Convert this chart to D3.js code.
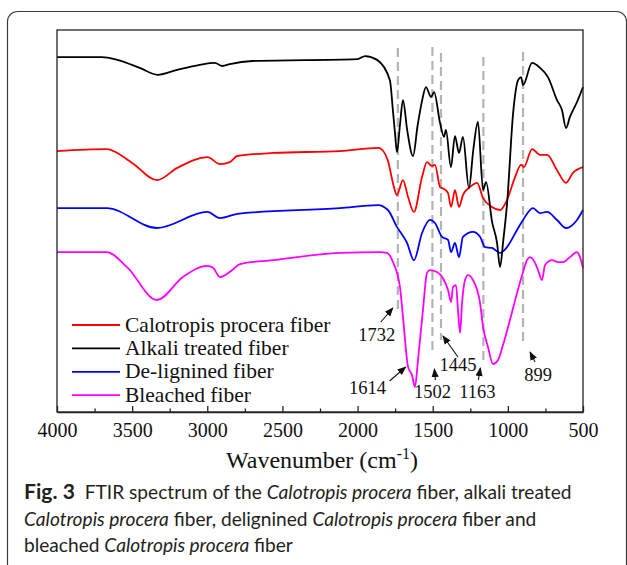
<!DOCTYPE html>
<html>
<head>
<meta charset="utf-8">
<script src="https://cdnjs.cloudflare.com/ajax/libs/d3/7.8.5/d3.min.js"></script>
<style>
  body { margin: 0; background: #fff; }
  svg { display: block; }
</style>
</head>
<body>
<svg width="627" height="565"></svg>
<script>
// FTIR spectra, [wavenumber cm-1, transmittance a.u.]
var calotropis = [[4000,68.4],[3670,68.9],[3500,65.3],[3335,60.8],[3200,64.0],[3000,66.8],[2915,65.0],[2850,65.5],[2800,67.1],[2560,67.9],[2117,68.4],[1860,69.2],[1800,66.1],[1758,59.0],[1738,56.9],[1698,60.8],[1664,56.4],[1625,52.5],[1571,61.6],[1538,65.5],[1505,64.5],[1485,64.8],[1451,59.0],[1425,58.5],[1398,57.4],[1378,53.8],[1352,58.2],[1325,53.8],[1299,56.9],[1252,59.0],[1205,60.1],[1165,56.1],[1106,53.8],[1052,53.0],[1006,55.6],[952,61.6],[912,64.8],[893,64.2],[839,68.9],[786,67.4],[739,67.4],[673,63.4],[613,60.1],[567,62.7],[500,64.2]];

var alkali = [[4000,92.9],[3700,92.9],[3600,92.2],[3450,90.1],[3330,88.3],[3200,89.6],[3050,90.9],[2950,91.4],[2900,90.6],[2850,91.1],[2700,91.9],[2000,92.4],[1950,93.2],[1870,92.2],[1785,86.9],[1765,79.1],[1750,72.6],[1738,68.1],[1718,75.2],[1698,81.7],[1670,73.9],[1631,67.1],[1600,75.2],[1570,81.7],[1545,85.1],[1511,82.5],[1491,83.8],[1451,75.7],[1425,72.1],[1412,73.9],[1379,64.2],[1352,72.3],[1325,67.9],[1299,72.1],[1259,58.7],[1230,68.7],[1199,76.0],[1165,58.2],[1145,60.3],[1105,49.9],[1072,44.4],[1052,38.1],[1030,45.2],[1005,54.8],[965,78.3],[932,86.9],[912,87.7],[899,85.6],[839,91.4],[786,90.1],[733,87.7],[673,81.7],[640,79.1],[613,74.4],[587,77.3],[540,81.2],[500,85.1]];

var delignified = [[4000,53.5],[3670,53.5],[3335,48.3],[3000,52.5],[2915,50.9],[2800,52.0],[2117,53.5],[1864,54.3],[1798,53.0],[1738,48.6],[1671,44.4],[1625,39.9],[1571,47.0],[1518,50.4],[1485,49.6],[1438,46.0],[1398,45.2],[1378,42.0],[1352,44.4],[1325,40.7],[1299,46.0],[1232,47.3],[1185,46.0],[1152,43.3],[1106,43.1],[1052,41.8],[1006,43.3],[939,47.8],[899,50.4],[833,53.5],[786,52.2],[739,52.5],[673,50.4],[613,48.3],[540,50.4],[500,53.0]];

var bleached = [[4000,42.0],[3670,42.0],[3534,38.1],[3335,29.5],[3162,35.5],[3002,38.4],[2962,37.9],[2915,35.5],[2836,37.3],[2782,38.9],[2563,39.9],[2117,41.8],[1851,42.0],[1804,41.8],[1764,39.4],[1718,32.9],[1698,25.1],[1664,12.0],[1638,9.9],[1618,6.8],[1598,13.8],[1565,26.9],[1538,36.6],[1518,37.3],[1472,36.8],[1432,35.2],[1398,32.1],[1378,29.0],[1365,32.9],[1345,33.4],[1332,26.9],[1318,20.9],[1305,28.7],[1285,34.7],[1265,36.0],[1232,34.7],[1185,28.7],[1165,22.5],[1132,17.2],[1099,12.8],[1066,13.8],[1032,17.8],[986,24.3],[939,31.3],[899,36.8],[873,39.9],[853,40.7],[819,39.2],[799,37.3],[773,34.7],[753,38.6],[706,39.9],[666,39.4],[633,39.4],[587,40.7],[540,42.0],[500,37.9]];

var legendNames = ["Calotropis procera fiber", "Alkali treated fiber", "De-lignined fiber", "Bleached fiber"];
var colors = ["#ff0000", "#000000", "#0000ff", "#ff00ff"];
var majorTicks = [4000, 3500, 3000, 2500, 2000, 1500, 1000, 500];
var minorTicks = [3750, 3250, 2750, 2250, 1750, 1250, 750];
var peaks = [1732, 1614, 1502, 1445, 1163, 899];
var dashedAt = [1732, 1502, 1445, 1163, 899];

var svg = d3.select("svg");
var plotL = 57, plotR = 583, plotT = 30, plotB = 412;

var x = d3.scaleLinear().domain([4000, 500]).range([plotL, plotR]);
var y = d3.scaleLinear().domain([0, 100]).range([plotB + 1, plotT]);

// outer caption box
svg.append("rect")
  .attr("x", 7.5).attr("y", 11.5).attr("width", 619).attr("height", 600)
  .attr("rx", 10).attr("fill", "none").attr("stroke", "#3a3a3a").attr("stroke-width", 1.2);

// dashed guide lines
var dashTop = [48, 47, 53, 57, 52], dashBot = [313, 352, 340, 360, 342];
svg.append("g").selectAll("line").data(dashedAt).enter().append("line")
  .attr("x1", function (d) { return x(d); }).attr("x2", function (d) { return x(d); })
  .attr("y1", function (d, i) { return dashTop[i]; })
  .attr("y2", function (d, i) { return dashBot[i]; })
  .attr("stroke", "#b4b4b4").attr("stroke-width", 2.2).attr("stroke-dasharray", "9,5");

var line = d3.line()
  .x(function (d) { return x(d[0]); })
  .y(function (d) { return y(d[1]); })
  .curve(d3.curveMonotoneX);

var series = [calotropis, alkali, delignified, bleached];
[0, 2, 3, 1].forEach(function (i) {
  svg.append("path").datum(series[i])
    .attr("d", line).attr("fill", "none")
    .attr("stroke", colors[i]).attr("stroke-width", 1.8)
    .attr("stroke-linejoin", "round");
});

// frame
svg.append("rect")
  .attr("x", plotL).attr("y", plotT).attr("width", plotR - plotL).attr("height", plotB - plotT)
  .attr("fill", "none").attr("stroke", "#222").attr("stroke-width", 1.3);

// x axis, ticks pointing inward
var xAxis = d3.axisBottom(x).tickValues(majorTicks).tickFormat(d3.format("d"))
  .tickSizeInner(-6).tickSizeOuter(0).tickPadding(11);
var gx = svg.append("g").attr("transform", "translate(0," + plotB + ")").call(xAxis);
gx.select(".domain").attr("stroke", "#222").attr("stroke-width", 1.3);
gx.selectAll(".tick line").attr("stroke", "#222").attr("stroke-width", 1.3);
gx.selectAll("text").attr("font-family", "Liberation Serif").attr("font-size", 20).attr("fill", "#111");

var gm = svg.append("g").attr("transform", "translate(0," + plotB + ")")
  .call(d3.axisBottom(x).tickValues(minorTicks).tickFormat("").tickSizeInner(-3.5).tickSizeOuter(0));
gm.select(".domain").remove();
gm.selectAll(".tick line").attr("stroke", "#222").attr("stroke-width", 1.3);

// axis title
var title = svg.append("text").attr("x", 322).attr("y", 468).attr("text-anchor", "middle")
  .attr("font-family", "Liberation Serif").attr("font-size", 24).attr("fill", "#111");
title.append("tspan").text("Wavenumber (cm");
title.append("tspan").attr("dy", -9).attr("font-size", 16).text("-1");
title.append("tspan").attr("dy", 9).text(")");

// legend
var lg = svg.append("g");
legendNames.forEach(function (name, i) {
  var yy = 325 + i * 23.4;
  lg.append("line").attr("x1", 72).attr("x2", 120).attr("y1", yy).attr("y2", yy)
    .attr("stroke", colors[i]).attr("stroke-width", 1.8);
  lg.append("text").attr("x", 125).attr("y", yy + 6.5)
    .attr("font-family", "Liberation Serif").attr("font-size", 21.5).attr("fill", "#111").text(name);
});

// peak annotations
svg.append("defs").append("marker").attr("id", "ah")
  .attr("viewBox", "0 0 10 10").attr("refX", 9).attr("refY", 5)
  .attr("markerWidth", 9).attr("markerHeight", 9).attr("orient", "auto")
  .attr("markerUnits", "userSpaceOnUse")
  .append("path").attr("d", "M0,1 L10,5 L0,9 Z").attr("fill", "#111");

var notes = [
  { tx: -21, ty: 341, a: [-17, 322, -5, 308] },
  { tx: -48, ty: 394, a: [-26, 381, -10, 367] },
  { tx: 0, ty: 398, a: [3, 380, 2, 369] },
  { tx: 17, ty: 371, a: [17, 357, 2, 336] },
  { tx: -6, ty: 398, a: [-5, 380, -3, 368] },
  { tx: 15, ty: 381, a: [12, 362, 7, 352] }
];
peaks.forEach(function (p, i) {
  var n = notes[i], px = x(p);
  svg.append("text").attr("x", px + n.tx).attr("y", n.ty).attr("text-anchor", "middle")
    .attr("font-family", "Liberation Serif").attr("font-size", 18.5).attr("fill", "#111").text(p);
  svg.append("line").attr("x1", px + n.a[0]).attr("y1", n.a[1]).attr("x2", px + n.a[2]).attr("y2", n.a[3])
    .attr("stroke", "#111").attr("stroke-width", 1.1).attr("marker-end", "url(#ah)");
});

// caption
var cap = svg.append("g").attr("font-family", "Lato").attr("fill", "#231f20");
var lines = [
  [["Fig. 3", "b"], ["\u00a0 FTIR spectrum of the ", "n"], ["Calotropis procera", "i"], [" fiber, alkali treated", "n"]],
  [["Calotropis procera", "i"], [" fiber, delignined ", "n"], ["Calotropis procera", "i"], [" fiber and", "n"]],
  [["bleached ", "n"], ["Calotropis procera", "i"], [" fiber", "n"]]
];
var capTexts = lines.map(function (parts, k) {
  var t = cap.append("text").attr("x", 24).attr("y", 499 + k * 26.5).attr("font-size", 19);
  parts.forEach(function (p) {
    var s = t.append("tspan").text(p[0]);
    if (p[1] === "b") s.attr("font-weight", "bold").attr("font-size", 21);
    if (p[1] === "i") s.attr("font-style", "italic");
  });
  return t;
});
var w0 = capTexts[0].node().getComputedTextLength();
var k = 548 / w0;
capTexts.forEach(function (t) {
  t.attr("font-size", 19 * k);
  t.selectAll("tspan").each(function () {
    var el = d3.select(this);
    if (el.attr("font-weight") === "bold") el.attr("font-size", 21 * k);
  });
});
</script>
</body>
</html>
